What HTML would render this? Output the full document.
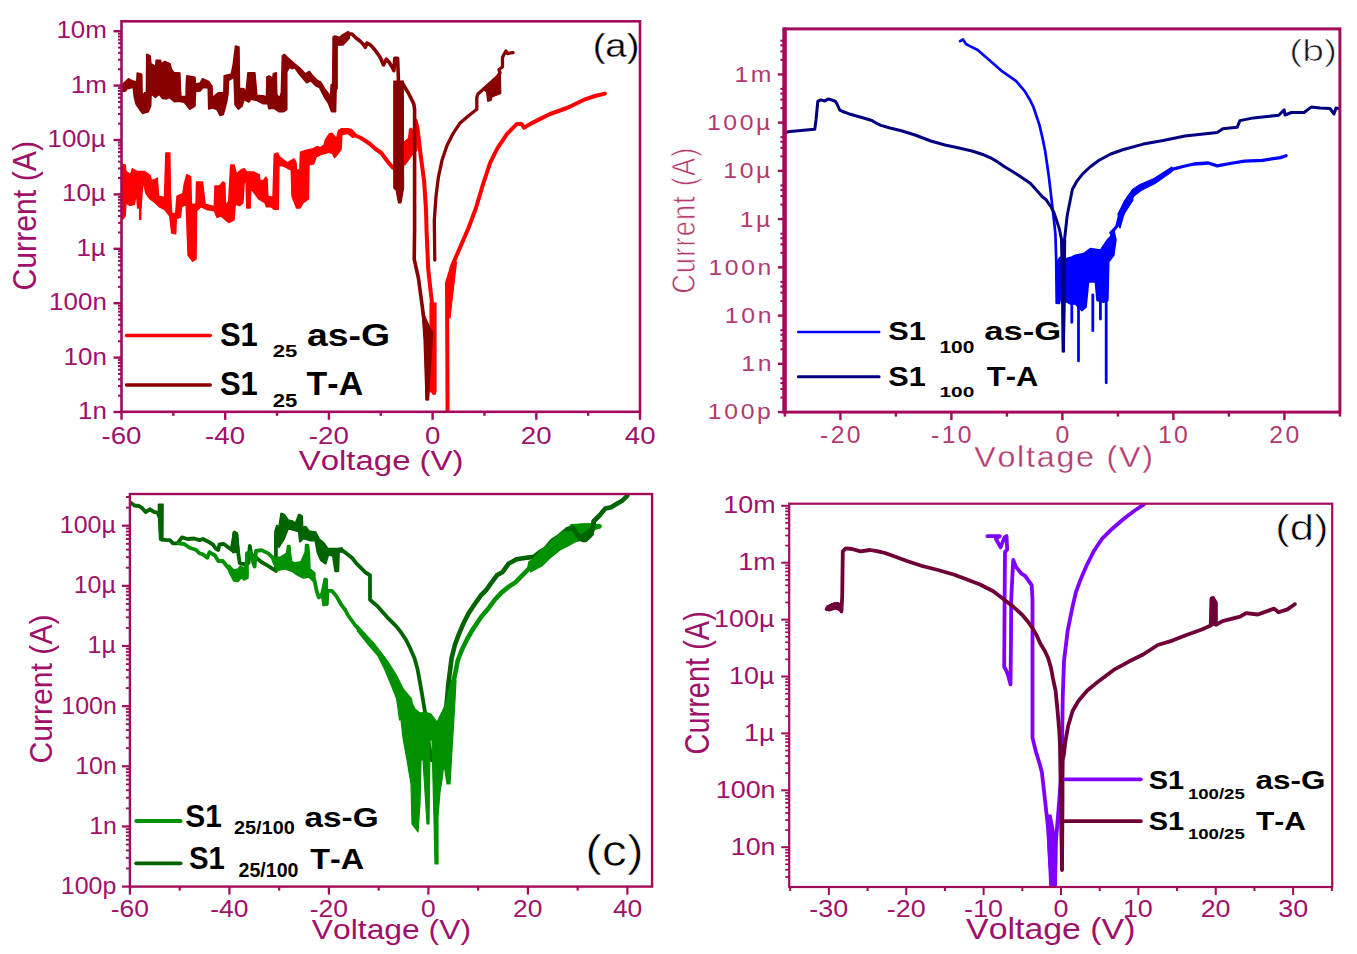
<!DOCTYPE html>
<html><head><meta charset="utf-8"><title>I-V curves</title>
<style>
html,body{margin:0;padding:0;background:#fff;}
body{width:1357px;height:954px;overflow:hidden;}
svg{display:block;font-family:"Liberation Sans", sans-serif;font-kerning:none;}
text{font-kerning:none;}
</style></head><body>
<svg width="1357" height="954" viewBox="0 0 1357 954">
<rect width="1357" height="954" fill="#fff"/>
<clipPath id="ca"><rect x="121.5" y="21.3" width="518.5" height="390.5"/></clipPath>
<g clip-path="url(#ca)">
<path d="M121 164 L122 164.2 L125.2 164.9 L125.9 171.4 L130.5 174.7 L132.4 168.8 L137 171.4 L144.2 171.4 L150.1 175.4 L151.4 180.6 L155.4 179.3 L157.3 178 L158.6 196.3 L164.5 197.6 L165.9 153.1 L169.8 153.1 L170.4 192.4 L171.7 213.4 L175.7 213.4 L177 196.3 L182.9 193.7 L184.2 184.5 L186.8 174.7 L190.7 176.7 L191.4 204.2 L196 204.2 L196.6 181.9 L202.5 181.9 L203.8 193.7 L205.2 204.2 L214.3 206.8 L215 185.9 L219.6 185.9 L222.8 181.9 L224.8 183.2 L225.5 205.5 L228.7 201.6 L230.7 164.9 L234 164.9 L236.6 174.1 L240.9 170 L244.2 168.7 L246.8 172 L253.3 172 L259.2 174.6 L259.9 180.5 L263.8 180.5 L265.8 177.2 L267.1 179.2 L267.8 196.2 L273 197.5 L274.3 154.3 L277.6 153 L279.5 156.9 L287.4 162.8 L294 158.9 L295.9 162.2 L296.6 170 L299.8 170 L300.5 152.3 L305.7 150.4 L312.3 149.1 L317.5 146.4 L320.2 147.8 L324.1 145.1 L325.4 139.9 L329.3 134 L331.9 133.3 L336.5 138.6 L338.5 130.7 L341.1 128.8 L347.7 128.8 L351.6 129.4 L355 133.3 L355 136.6 L352.9 137.3 L347.7 133.3 L341.8 134.7 L341.1 149.1 L336.5 155.6 L334.6 157.6 L332.6 153.6 L329.3 152.3 L321.5 154.3 L316.2 156.9 L313.6 164.1 L309 164.8 L308.4 198.8 L303.1 202.8 L299.8 208 L296.6 208 L292 196.2 L291.3 170 L282.2 165.4 L278.9 166.1 L278.2 209.3 L274.3 209.3 L271 206.7 L266.4 206.7 L265.1 202.8 L258.6 198.8 L254.7 193.6 L250.7 188.4 L250.1 208 L246.8 208 L246.1 181.8 L244.2 181.8 L242.9 202.8 L240 205.5 L235.3 204.2 L234 219.9 L228.7 222.5 L220.9 216 L217 217.3 L214.3 210.7 L206.5 209.4 L201.2 206.8 L196.6 210.7 L196 259.2 L192.7 261.2 L188.1 255.3 L186.2 204.2 L181.6 206.8 L180.3 217.3 L176.3 218.6 L175.7 233.7 L171.7 233 L169.8 216 L164.5 209.4 L159.3 206.8 L155.4 202.9 L150.1 199 L146.2 193.7 L142.9 180.6 L141 207.5 L137.7 208.1 L136.4 192.4 L134.4 204.2 L129.8 205.5 L125.9 202.9 L125.2 216 L122 219.9 L121 220Z" fill="#FF0000" stroke="#FF0000" stroke-width="1.5" stroke-linejoin="round"/>
<path d="M140.2 200 L140.2 219" fill="none" stroke="#FF0000" stroke-width="2.6" stroke-linejoin="round" stroke-linecap="round"/>
<path d="M174 215 L174 233" fill="none" stroke="#FF0000" stroke-width="2.6" stroke-linejoin="round" stroke-linecap="round"/>
<path d="M354 135 L360 137.5 L365 140.5 L370 144 L375 148.5 L381.3 153 L385 158 L388 162 L392.9 167.7 L398 166 L403.3 162.1 L405.2 143.2 L409.9 139.4 L410.8 130 L412.7 150.8 L415.6 120.6 L417.5 128.1 L420.3 152.6 L424.1 180.9 L426 210 L426.6 232 L428.2 268.8 L430.5 290 L432.1 303.7 L434 332.8 L433 391 L434 393" fill="none" stroke="#FF0000" stroke-width="4" stroke-linejoin="round" stroke-linecap="round"/>
<path d="M447.6 425 L447.2 330 L447 283 L452.9 263.9 L461.3 244.6 L468.6 227.8 L475.8 208.5 L483 184.4 L490.2 162.7 L497.5 148.2 L507.1 133.8 L516.7 124.1 L521.6 124.1 L524 127.7 L530 124.1 L539.8 119.1 L550 114 L560 110.5 L568.1 107.5 L585.1 99.3 L595 96 L604.9 93.6" fill="none" stroke="#FF0000" stroke-width="4" stroke-linejoin="round" stroke-linecap="round"/>
<path d="M403 163 L404.5 142 L409 138 L410.8 128 L412 140 L415 119 L418 127 L417 150 L412 155 L405 165Z" fill="#FF0000" stroke="#FF0000" stroke-width="1.2" stroke-linejoin="round"/>
<path d="M430 303 L436 303 L436 392 L430 392Z" fill="#FF0000" stroke="#FF0000" stroke-width="1.2" stroke-linejoin="round"/>
<path d="M446 318 L450.5 266 L456.5 262 L450 318Z" fill="#FF0000" stroke="#FF0000" stroke-width="1.2" stroke-linejoin="round"/>
<path d="M121 85 L122.4 84.3 L125 82 L128.5 78.7 L130.5 80 L132.3 80.6 L134.6 81.5 L136.8 81.5 L137.2 73 L141.2 74 L141.8 75 L142.2 96.6 L144.5 92.8 L146.4 92.8 L146.7 54.2 L150.2 56 L150.9 63.6 L155.6 66.4 L156.1 60.3 L160.6 60.3 L161.3 63.6 L164.8 61.5 L170 63.6 L171.4 69.2 L173.8 72.5 L179.9 73 L180.4 89.1 L181 96.6 L186 96.6 L186.3 83 L186.8 75.8 L195 77.3 L195.4 84 L200.2 82.9 L202.5 78.7 L208.7 81.5 L212 86.2 L212.5 97.5 L218.1 92.8 L223.8 92.8 L224.2 75.8 L231.3 74 L233.2 64.5 L235.5 45.9 L239 46.9 L239.5 88.2 L244 88.7 L245.9 92.7 L247.9 72.8 L254.9 72.8 L255.9 84.3 L256.9 95.2 L262.9 95.7 L266.4 96.7 L266.9 76.8 L268.8 75.8 L272.8 77.8 L273.3 73.8 L276.3 72.8 L276.8 94.7 L279.8 97.7 L281.3 92.7 L282.3 55.9 L284.3 54.4 L286.8 56.9 L294.7 63.8 L300.7 68.8 L305.2 73.8 L309.2 71.3 L312.7 75.8 L316.7 79.8 L320.6 81.8 L324.6 88.7 L328.6 93.7 L330.6 97.7 L331.1 84.8 L332.6 83.8 L333.1 37 L335.1 36 L339.6 37.5 L341.6 35.5 L348.5 31.5 L349.5 37.9 L343 44.9 L337.1 44.9 L337.1 88.7 L336.1 89.7 L335.6 111.7 L331.6 111.7 L328.6 103.7 L324.6 97.7 L319.6 87.7 L315.7 85.8 L310.7 80.8 L306.7 82.8 L299.7 74.8 L294.7 67.8 L291.8 68.8 L289.8 66.8 L286.8 71.8 L286.8 109.7 L283.8 111.7 L278.8 111.7 L273.8 108.2 L268.8 108.7 L267.8 103.7 L262.9 103.7 L255.9 100.2 L250.9 99.2 L248.9 102.2 L244 99.7 L242 106.2 L238.5 109.2 L235 104.7 L234 76.3 L233.2 77.7 L228.5 80.6 L228 93.8 L226.6 102.3 L223.3 114.5 L220 115.5 L217.2 109.8 L212.5 107.9 L208.7 108.9 L208.2 88.1 L203 87.6 L200.2 90.9 L195.5 91.4 L195 106 L189.8 109.3 L184.2 102.3 L178.5 101.3 L174.7 101.8 L169.1 97.5 L166.2 99 L162.5 98.5 L159.2 94.2 L155.4 97.5 L151.1 93.8 L150.7 106 L148.3 111.7 L142.6 113.6 L139.8 109.8 L136 104.2 L134.2 96.6 L133.2 87.2 L126.6 89.1 L125.7 90.9 L122.4 91.4 L121 92Z" fill="#880000" stroke="#880000" stroke-width="1.5" stroke-linejoin="round"/>
<path d="M347 34 L352 34 L356 38 L360 41 L363 44 L365.3 47.3 L367 43 L370 44.5 L375 50 L380 57 L383.5 64.9 L386.3 59.2 L389 62 L392 67 L393.9 70.6 L394.8 58.3 L397.6 58.3 L398.5 82" fill="none" stroke="#880000" stroke-width="3.6" stroke-linejoin="round" stroke-linecap="round"/>
<path d="M393.8 81 L403.3 81 L403.6 188 L401 203 L398.5 203 L396 190 L393.8 188Z" fill="#880000" stroke="#880000" stroke-width="1.2" stroke-linejoin="round"/>
<path d="M402 82.5 L409 94.2 L413.7 103.6 L414.6 109.2 L414.6 230 L414.2 259.1 L418.5 278.5 L422.4 307.6 L426.3 336.7 L427.2 398.8 L429.5 365 L431.5 332" fill="none" stroke="#880000" stroke-width="3.6" stroke-linejoin="round" stroke-linecap="round"/>
<path d="M422 310 L431 330 L428.6 400 L426 400 L424 340Z" fill="#880000" stroke="#880000" stroke-width="1.2" stroke-linejoin="round"/>
<path d="M434.8 260 L434.3 220.5 L436 196.4 L438.4 177.1 L442 160.3 L446.9 145.8 L452.9 133.8 L460.1 122.9 L468.6 115.7 L476.8 109.2 L476.8 97.4 L478 94 L484.7 88 L497 77 L500 73 L499 69.5 L502.5 67 L502.5 57.3 L505.9 51 L507.5 53.5 L513 52.6" fill="none" stroke="#880000" stroke-width="3.3" stroke-linejoin="round" stroke-linecap="round"/>
<path d="M484 90 L497 78 L500.4 74.6 L500.8 93.5 L492 97 L491 100.5 L487.8 101.3 L486.5 92Z" fill="#880000" stroke="#880000" stroke-width="1.2" stroke-linejoin="round"/>
</g>
<rect x="121.5" y="21.3" width="518.5" height="390.5" fill="none" stroke="#A40A5C" stroke-width="2.6"/>
<line x1="113.5" y1="412" x2="121.5" y2="412" stroke="#A40A5C" stroke-width="2.4"/>
<line x1="118" y1="395.62" x2="121.5" y2="395.62" stroke="#A40A5C" stroke-width="2.04"/>
<line x1="118" y1="386.04" x2="121.5" y2="386.04" stroke="#A40A5C" stroke-width="2.04"/>
<line x1="118" y1="379.25" x2="121.5" y2="379.25" stroke="#A40A5C" stroke-width="2.04"/>
<line x1="118" y1="373.98" x2="121.5" y2="373.98" stroke="#A40A5C" stroke-width="2.04"/>
<line x1="118" y1="369.67" x2="121.5" y2="369.67" stroke="#A40A5C" stroke-width="2.04"/>
<line x1="118" y1="366.03" x2="121.5" y2="366.03" stroke="#A40A5C" stroke-width="2.04"/>
<line x1="118" y1="362.87" x2="121.5" y2="362.87" stroke="#A40A5C" stroke-width="2.04"/>
<line x1="118" y1="360.09" x2="121.5" y2="360.09" stroke="#A40A5C" stroke-width="2.04"/>
<line x1="113.5" y1="357.6" x2="121.5" y2="357.6" stroke="#A40A5C" stroke-width="2.4"/>
<line x1="118" y1="341.22" x2="121.5" y2="341.22" stroke="#A40A5C" stroke-width="2.04"/>
<line x1="118" y1="331.64" x2="121.5" y2="331.64" stroke="#A40A5C" stroke-width="2.04"/>
<line x1="118" y1="324.85" x2="121.5" y2="324.85" stroke="#A40A5C" stroke-width="2.04"/>
<line x1="118" y1="319.58" x2="121.5" y2="319.58" stroke="#A40A5C" stroke-width="2.04"/>
<line x1="118" y1="315.27" x2="121.5" y2="315.27" stroke="#A40A5C" stroke-width="2.04"/>
<line x1="118" y1="311.63" x2="121.5" y2="311.63" stroke="#A40A5C" stroke-width="2.04"/>
<line x1="118" y1="308.47" x2="121.5" y2="308.47" stroke="#A40A5C" stroke-width="2.04"/>
<line x1="118" y1="305.69" x2="121.5" y2="305.69" stroke="#A40A5C" stroke-width="2.04"/>
<line x1="113.5" y1="303.2" x2="121.5" y2="303.2" stroke="#A40A5C" stroke-width="2.4"/>
<line x1="118" y1="286.82" x2="121.5" y2="286.82" stroke="#A40A5C" stroke-width="2.04"/>
<line x1="118" y1="277.24" x2="121.5" y2="277.24" stroke="#A40A5C" stroke-width="2.04"/>
<line x1="118" y1="270.45" x2="121.5" y2="270.45" stroke="#A40A5C" stroke-width="2.04"/>
<line x1="118" y1="265.18" x2="121.5" y2="265.18" stroke="#A40A5C" stroke-width="2.04"/>
<line x1="118" y1="260.87" x2="121.5" y2="260.87" stroke="#A40A5C" stroke-width="2.04"/>
<line x1="118" y1="257.23" x2="121.5" y2="257.23" stroke="#A40A5C" stroke-width="2.04"/>
<line x1="118" y1="254.07" x2="121.5" y2="254.07" stroke="#A40A5C" stroke-width="2.04"/>
<line x1="118" y1="251.29" x2="121.5" y2="251.29" stroke="#A40A5C" stroke-width="2.04"/>
<line x1="113.5" y1="248.8" x2="121.5" y2="248.8" stroke="#A40A5C" stroke-width="2.4"/>
<line x1="118" y1="232.42" x2="121.5" y2="232.42" stroke="#A40A5C" stroke-width="2.04"/>
<line x1="118" y1="222.84" x2="121.5" y2="222.84" stroke="#A40A5C" stroke-width="2.04"/>
<line x1="118" y1="216.05" x2="121.5" y2="216.05" stroke="#A40A5C" stroke-width="2.04"/>
<line x1="118" y1="210.78" x2="121.5" y2="210.78" stroke="#A40A5C" stroke-width="2.04"/>
<line x1="118" y1="206.47" x2="121.5" y2="206.47" stroke="#A40A5C" stroke-width="2.04"/>
<line x1="118" y1="202.83" x2="121.5" y2="202.83" stroke="#A40A5C" stroke-width="2.04"/>
<line x1="118" y1="199.67" x2="121.5" y2="199.67" stroke="#A40A5C" stroke-width="2.04"/>
<line x1="118" y1="196.89" x2="121.5" y2="196.89" stroke="#A40A5C" stroke-width="2.04"/>
<line x1="113.5" y1="194.4" x2="121.5" y2="194.4" stroke="#A40A5C" stroke-width="2.4"/>
<line x1="118" y1="178.02" x2="121.5" y2="178.02" stroke="#A40A5C" stroke-width="2.04"/>
<line x1="118" y1="168.44" x2="121.5" y2="168.44" stroke="#A40A5C" stroke-width="2.04"/>
<line x1="118" y1="161.65" x2="121.5" y2="161.65" stroke="#A40A5C" stroke-width="2.04"/>
<line x1="118" y1="156.38" x2="121.5" y2="156.38" stroke="#A40A5C" stroke-width="2.04"/>
<line x1="118" y1="152.07" x2="121.5" y2="152.07" stroke="#A40A5C" stroke-width="2.04"/>
<line x1="118" y1="148.43" x2="121.5" y2="148.43" stroke="#A40A5C" stroke-width="2.04"/>
<line x1="118" y1="145.27" x2="121.5" y2="145.27" stroke="#A40A5C" stroke-width="2.04"/>
<line x1="118" y1="142.49" x2="121.5" y2="142.49" stroke="#A40A5C" stroke-width="2.04"/>
<line x1="113.5" y1="140" x2="121.5" y2="140" stroke="#A40A5C" stroke-width="2.4"/>
<line x1="118" y1="123.62" x2="121.5" y2="123.62" stroke="#A40A5C" stroke-width="2.04"/>
<line x1="118" y1="114.04" x2="121.5" y2="114.04" stroke="#A40A5C" stroke-width="2.04"/>
<line x1="118" y1="107.25" x2="121.5" y2="107.25" stroke="#A40A5C" stroke-width="2.04"/>
<line x1="118" y1="101.98" x2="121.5" y2="101.98" stroke="#A40A5C" stroke-width="2.04"/>
<line x1="118" y1="97.67" x2="121.5" y2="97.67" stroke="#A40A5C" stroke-width="2.04"/>
<line x1="118" y1="94.03" x2="121.5" y2="94.03" stroke="#A40A5C" stroke-width="2.04"/>
<line x1="118" y1="90.87" x2="121.5" y2="90.87" stroke="#A40A5C" stroke-width="2.04"/>
<line x1="118" y1="88.09" x2="121.5" y2="88.09" stroke="#A40A5C" stroke-width="2.04"/>
<line x1="113.5" y1="85.6" x2="121.5" y2="85.6" stroke="#A40A5C" stroke-width="2.4"/>
<line x1="118" y1="69.22" x2="121.5" y2="69.22" stroke="#A40A5C" stroke-width="2.04"/>
<line x1="118" y1="59.64" x2="121.5" y2="59.64" stroke="#A40A5C" stroke-width="2.04"/>
<line x1="118" y1="52.85" x2="121.5" y2="52.85" stroke="#A40A5C" stroke-width="2.04"/>
<line x1="118" y1="47.58" x2="121.5" y2="47.58" stroke="#A40A5C" stroke-width="2.04"/>
<line x1="118" y1="43.27" x2="121.5" y2="43.27" stroke="#A40A5C" stroke-width="2.04"/>
<line x1="118" y1="39.63" x2="121.5" y2="39.63" stroke="#A40A5C" stroke-width="2.04"/>
<line x1="118" y1="36.47" x2="121.5" y2="36.47" stroke="#A40A5C" stroke-width="2.04"/>
<line x1="118" y1="33.69" x2="121.5" y2="33.69" stroke="#A40A5C" stroke-width="2.04"/>
<line x1="113.5" y1="31.2" x2="121.5" y2="31.2" stroke="#A40A5C" stroke-width="2.4"/>
<line x1="121.5" y1="411.8" x2="121.5" y2="419.8" stroke="#A40A5C" stroke-width="2.4"/>
<line x1="225.2" y1="411.8" x2="225.2" y2="419.8" stroke="#A40A5C" stroke-width="2.4"/>
<line x1="328.9" y1="411.8" x2="328.9" y2="419.8" stroke="#A40A5C" stroke-width="2.4"/>
<line x1="432.6" y1="411.8" x2="432.6" y2="419.8" stroke="#A40A5C" stroke-width="2.4"/>
<line x1="536.3" y1="411.8" x2="536.3" y2="419.8" stroke="#A40A5C" stroke-width="2.4"/>
<line x1="640" y1="411.8" x2="640" y2="419.8" stroke="#A40A5C" stroke-width="2.4"/>
<line x1="173.35" y1="411.8" x2="173.35" y2="415.8" stroke="#A40A5C" stroke-width="2.4"/>
<line x1="277.05" y1="411.8" x2="277.05" y2="415.8" stroke="#A40A5C" stroke-width="2.4"/>
<line x1="380.75" y1="411.8" x2="380.75" y2="415.8" stroke="#A40A5C" stroke-width="2.4"/>
<line x1="484.45" y1="411.8" x2="484.45" y2="415.8" stroke="#A40A5C" stroke-width="2.4"/>
<line x1="588.15" y1="411.8" x2="588.15" y2="415.8" stroke="#A40A5C" stroke-width="2.4"/>
<text transform="translate(56.39,38.2) scale(1.0600,1)" font-size="24.5" font-weight="normal" fill="#A0106A" text-anchor="start">10m</text>
<text transform="translate(70.84,92.6) scale(1.0600,1)" font-size="24.5" font-weight="normal" fill="#A0106A" text-anchor="start">1m</text>
<text transform="translate(47.5,147) scale(1.0600,1)" font-size="24.5" font-weight="normal" fill="#A0106A" text-anchor="start">100µ</text>
<text transform="translate(61.95,201.4) scale(1.0600,1)" font-size="24.5" font-weight="normal" fill="#A0106A" text-anchor="start">10µ</text>
<text transform="translate(76.39,255.8) scale(1.0600,1)" font-size="24.5" font-weight="normal" fill="#A0106A" text-anchor="start">1µ</text>
<text transform="translate(49.11,310.2) scale(1.0600,1)" font-size="24.5" font-weight="normal" fill="#A0106A" text-anchor="start">100n</text>
<text transform="translate(63.56,364.6) scale(1.0600,1)" font-size="24.5" font-weight="normal" fill="#A0106A" text-anchor="start">10n</text>
<text transform="translate(78,419) scale(1.0600,1)" font-size="24.5" font-weight="normal" fill="#A0106A" text-anchor="start">1n</text>
<text transform="translate(101.42,443.5) scale(1.1300,1)" font-size="24.5" font-weight="normal" fill="#A0106A" text-anchor="start">-60</text>
<text transform="translate(205.12,443.5) scale(1.1300,1)" font-size="24.5" font-weight="normal" fill="#A0106A" text-anchor="start">-40</text>
<text transform="translate(308.82,443.5) scale(1.1300,1)" font-size="24.5" font-weight="normal" fill="#A0106A" text-anchor="start">-20</text>
<text transform="translate(424.9,443.5) scale(1.1300,1)" font-size="24.5" font-weight="normal" fill="#A0106A" text-anchor="start">0</text>
<text transform="translate(520.75,443.5) scale(1.1300,1)" font-size="24.5" font-weight="normal" fill="#A0106A" text-anchor="start">20</text>
<text transform="translate(624.83,443.5) scale(1.1300,1)" font-size="24.5" font-weight="normal" fill="#A0106A" text-anchor="start">40</text>
<text transform="translate(298.66,469.5) scale(1.1637,1)" font-size="28.34" font-weight="normal" fill="#A0106A" text-anchor="start">Voltage (V)</text>
<text transform="translate(36.2,290.54) scale(1.1081,1) rotate(-90)" font-size="30.25" font-weight="normal" fill="#A0106A" text-anchor="start">Current (A)</text>
<text transform="translate(592.63,56.8) scale(1.1644,1)" font-size="32.85" font-weight="normal" fill="#000" text-anchor="start" stroke="#fff" stroke-width="0.3">(a)</text>
<path d="M126.6 335.5 L210.2 335.5" fill="none" stroke="#FF0000" stroke-width="3.6" stroke-linejoin="round" stroke-linecap="round"/>
<path d="M126.6 385 L210.2 385" fill="none" stroke="#880000" stroke-width="3.6" stroke-linejoin="round" stroke-linecap="round"/>
<text transform="translate(219.91,345.8) scale(0.9531,1)" font-size="32.56" font-weight="bold" fill="#000" text-anchor="start">S1</text>
<text transform="translate(272.63,356.7) scale(1.2753,1)" font-size="17.33" font-weight="bold" fill="#000" text-anchor="start">25</text>
<text transform="translate(306.9,345.8) scale(1.1654,1)" font-size="32.08" font-weight="bold" fill="#000" text-anchor="start">as-G</text>
<text transform="translate(219.91,395.3) scale(0.9531,1)" font-size="32.56" font-weight="bold" fill="#000" text-anchor="start">S1</text>
<text transform="translate(272.63,406.7) scale(1.2247,1)" font-size="18.05" font-weight="bold" fill="#000" text-anchor="start">25</text>
<text transform="translate(306.62,395.3) scale(1.0430,1)" font-size="32.56" font-weight="bold" fill="#000" text-anchor="start">T-A</text>
<clipPath id="cb"><rect x="784.9" y="28.9" width="555" height="383.2"/></clipPath>
<g clip-path="url(#cb)">
<path d="M960.1 41.2 L963 39.5 L966 44 L968.9 45.6 L977.7 50 L989.5 60.3 L1001.2 70.6 L1015.9 80.8 L1024.7 91.1 L1030 100 L1033.5 107.2 L1039.4 124.9 L1042.5 138 L1045.2 151.3 L1048.8 176.2 L1052.8 210.3 L1054.5 225 L1055.4 233.9 L1056.2 260 L1056.7 303 L1058 262 L1060 258 L1064.6 257.5" fill="none" stroke="#0000FF" stroke-width="2.7" stroke-linejoin="round" stroke-linecap="round"/>
<path d="M1058 262 L1066.8 258.5 L1071.8 256.9 L1075.2 255.2 L1083.6 253.5 L1090.3 248.5 L1100.4 250.1 L1103.7 245.1 L1107.1 240.1 L1110.4 236.7 L1113.8 230 L1116 240 L1113.8 255.2 L1108.8 261.9 L1107.9 300.5 L1103.7 302.2 L1097 300.5 L1095.3 282 L1088.6 282 L1086.1 307.2 L1081.9 310.6 L1075.2 303.9 L1070.1 303.9 L1066.8 302.2 L1058 300Z" fill="#0000FF" stroke="#0000FF" stroke-width="1.5" stroke-linejoin="round"/>
<path d="M1071.8 300 L1071.8 322.3" fill="none" stroke="#0000FF" stroke-width="2.8" stroke-linejoin="round" stroke-linecap="round"/>
<path d="M1078.5 300 L1078.5 360.9" fill="none" stroke="#0000FF" stroke-width="2.8" stroke-linejoin="round" stroke-linecap="round"/>
<path d="M1092.8 295 L1092.8 330.7" fill="none" stroke="#0000FF" stroke-width="2.8" stroke-linejoin="round" stroke-linecap="round"/>
<path d="M1100.4 295 L1100.4 319" fill="none" stroke="#0000FF" stroke-width="2.8" stroke-linejoin="round" stroke-linecap="round"/>
<path d="M1106.2 295 L1106.2 382.8" fill="none" stroke="#0000FF" stroke-width="2.8" stroke-linejoin="round" stroke-linecap="round"/>
<path d="M1059 280 L1059 303" fill="none" stroke="#0000FF" stroke-width="2.8" stroke-linejoin="round" stroke-linecap="round"/>
<path d="M1111 233 L1113.8 230 L1117 226 L1119.6 215.5 L1124.9 205.1 L1128 198 L1132.7 191.9 L1136 189.5 L1139.7 187.4 L1146 184.5 L1154.2 181.1 L1163 175 L1172.2 169.4 L1183 166.5 L1193.9 164 L1208.3 163 L1217.3 165.8 L1230 163.5 L1244.4 161.2 L1262.5 160.3 L1280.5 157.6 L1286 155.8" fill="none" stroke="#0000FF" stroke-width="3.3" stroke-linejoin="round" stroke-linecap="round"/>
<path d="M1118 214 L1125 200 L1132.5 189.5 L1140 184.5 L1154 178.5 L1172 167 L1172 171.5 L1155 183.5 L1141 190.5 L1134 196 L1126 210 L1120 222Z" fill="#0000FF" stroke="#0000FF" stroke-width="1.2" stroke-linejoin="round"/>
<path d="M1118 224 L1122 210 L1131 195 L1133 200 L1124 214 L1120 228Z" fill="#0000FF" stroke="#0000FF" stroke-width="1.2" stroke-linejoin="round"/>
<path d="M784.9 132.5 L790 131.5 L798.7 130.7 L806 130 L814.8 129.3 L816 120 L817.8 101.4 L820.7 99.9 L825 101 L828 99 L832 100 L835.4 101.4 L837 104 L839.8 110.2 L844 112 L848.6 113.7 L860 117 L872 120.5 L876 123 L880.9 125.4 L890 128 L901.4 130.7 L915 135 L930.8 141 L945 145 L960.1 148.3 L972 151 L983.6 154.8 L991 158 L998.3 162.4 L1005 167 L1012.9 171.8 L1020 176.2 L1030.5 183.6 L1035.7 189.3 L1042.3 196.8 L1046.2 199.8 L1051.1 207 L1054.1 212.9 L1057 221.7 L1059.3 228.7 L1061.5 239.1 L1062.6 300 L1063.3 351 L1064 300 L1064.6 239.1 L1067.2 215.5 L1072.4 189.3 L1077 181 L1082.9 173.6 L1090 167 L1098.7 160.5 L1110.8 154 L1123.5 149.5 L1143.3 144.1 L1163.2 140.5 L1184.9 136 L1201.1 134.2 L1217.3 132.4 L1222.8 128.7 L1237.2 127.3 L1239.9 120.6 L1253.5 117.9 L1278.7 115.2 L1284.2 109.8 L1285 115 L1291.4 112.5 L1304 112.5 L1311.2 107.1 L1320 108 L1330 108.5 L1334 114 L1336 108 L1341 108.9" fill="none" stroke="#000080" stroke-width="3.0" stroke-linejoin="round" stroke-linecap="round"/>
<path d="M1061.6 240 L1065.6 240 L1065 300 L1064.3 352 L1062.4 352 L1062 300Z" fill="#000080" stroke="#000080" stroke-width="1.2" stroke-linejoin="round"/>
</g>
<rect x="784.9" y="28.9" width="555" height="383.2" fill="none" stroke="#A40A5C" stroke-width="3.0"/>
<line x1="777.9" y1="412.08" x2="784.9" y2="412.08" stroke="#A40A5C" stroke-width="2.4"/>
<line x1="780.4" y1="397.56" x2="784.9" y2="397.56" stroke="#A40A5C" stroke-width="2.04"/>
<line x1="780.4" y1="389.06" x2="784.9" y2="389.06" stroke="#A40A5C" stroke-width="2.04"/>
<line x1="780.4" y1="383.04" x2="784.9" y2="383.04" stroke="#A40A5C" stroke-width="2.04"/>
<line x1="780.4" y1="378.36" x2="784.9" y2="378.36" stroke="#A40A5C" stroke-width="2.04"/>
<line x1="777.9" y1="363.84" x2="784.9" y2="363.84" stroke="#A40A5C" stroke-width="2.4"/>
<line x1="780.4" y1="349.32" x2="784.9" y2="349.32" stroke="#A40A5C" stroke-width="2.04"/>
<line x1="780.4" y1="340.82" x2="784.9" y2="340.82" stroke="#A40A5C" stroke-width="2.04"/>
<line x1="780.4" y1="334.8" x2="784.9" y2="334.8" stroke="#A40A5C" stroke-width="2.04"/>
<line x1="780.4" y1="330.12" x2="784.9" y2="330.12" stroke="#A40A5C" stroke-width="2.04"/>
<line x1="777.9" y1="315.6" x2="784.9" y2="315.6" stroke="#A40A5C" stroke-width="2.4"/>
<line x1="780.4" y1="301.08" x2="784.9" y2="301.08" stroke="#A40A5C" stroke-width="2.04"/>
<line x1="780.4" y1="292.58" x2="784.9" y2="292.58" stroke="#A40A5C" stroke-width="2.04"/>
<line x1="780.4" y1="286.56" x2="784.9" y2="286.56" stroke="#A40A5C" stroke-width="2.04"/>
<line x1="780.4" y1="281.88" x2="784.9" y2="281.88" stroke="#A40A5C" stroke-width="2.04"/>
<line x1="777.9" y1="267.36" x2="784.9" y2="267.36" stroke="#A40A5C" stroke-width="2.4"/>
<line x1="780.4" y1="252.84" x2="784.9" y2="252.84" stroke="#A40A5C" stroke-width="2.04"/>
<line x1="780.4" y1="244.34" x2="784.9" y2="244.34" stroke="#A40A5C" stroke-width="2.04"/>
<line x1="780.4" y1="238.32" x2="784.9" y2="238.32" stroke="#A40A5C" stroke-width="2.04"/>
<line x1="780.4" y1="233.64" x2="784.9" y2="233.64" stroke="#A40A5C" stroke-width="2.04"/>
<line x1="777.9" y1="219.12" x2="784.9" y2="219.12" stroke="#A40A5C" stroke-width="2.4"/>
<line x1="780.4" y1="204.6" x2="784.9" y2="204.6" stroke="#A40A5C" stroke-width="2.04"/>
<line x1="780.4" y1="196.1" x2="784.9" y2="196.1" stroke="#A40A5C" stroke-width="2.04"/>
<line x1="780.4" y1="190.08" x2="784.9" y2="190.08" stroke="#A40A5C" stroke-width="2.04"/>
<line x1="780.4" y1="185.4" x2="784.9" y2="185.4" stroke="#A40A5C" stroke-width="2.04"/>
<line x1="777.9" y1="170.88" x2="784.9" y2="170.88" stroke="#A40A5C" stroke-width="2.4"/>
<line x1="780.4" y1="156.36" x2="784.9" y2="156.36" stroke="#A40A5C" stroke-width="2.04"/>
<line x1="780.4" y1="147.86" x2="784.9" y2="147.86" stroke="#A40A5C" stroke-width="2.04"/>
<line x1="780.4" y1="141.84" x2="784.9" y2="141.84" stroke="#A40A5C" stroke-width="2.04"/>
<line x1="780.4" y1="137.16" x2="784.9" y2="137.16" stroke="#A40A5C" stroke-width="2.04"/>
<line x1="777.9" y1="122.64" x2="784.9" y2="122.64" stroke="#A40A5C" stroke-width="2.4"/>
<line x1="780.4" y1="108.12" x2="784.9" y2="108.12" stroke="#A40A5C" stroke-width="2.04"/>
<line x1="780.4" y1="99.62" x2="784.9" y2="99.62" stroke="#A40A5C" stroke-width="2.04"/>
<line x1="780.4" y1="93.6" x2="784.9" y2="93.6" stroke="#A40A5C" stroke-width="2.04"/>
<line x1="780.4" y1="88.92" x2="784.9" y2="88.92" stroke="#A40A5C" stroke-width="2.04"/>
<line x1="777.9" y1="74.4" x2="784.9" y2="74.4" stroke="#A40A5C" stroke-width="2.4"/>
<line x1="780.4" y1="59.88" x2="784.9" y2="59.88" stroke="#A40A5C" stroke-width="2.04"/>
<line x1="780.4" y1="51.38" x2="784.9" y2="51.38" stroke="#A40A5C" stroke-width="2.04"/>
<line x1="780.4" y1="45.36" x2="784.9" y2="45.36" stroke="#A40A5C" stroke-width="2.04"/>
<line x1="780.4" y1="40.68" x2="784.9" y2="40.68" stroke="#A40A5C" stroke-width="2.04"/>
<line x1="784.5" y1="27.4" x2="784.5" y2="413.6" stroke="#A40A5C" stroke-width="4.4"/>
<line x1="840.4" y1="412.1" x2="840.4" y2="420.1" stroke="#A40A5C" stroke-width="2.4"/>
<line x1="951.4" y1="412.1" x2="951.4" y2="420.1" stroke="#A40A5C" stroke-width="2.4"/>
<line x1="1062.4" y1="412.1" x2="1062.4" y2="420.1" stroke="#A40A5C" stroke-width="2.4"/>
<line x1="1173.4" y1="412.1" x2="1173.4" y2="420.1" stroke="#A40A5C" stroke-width="2.4"/>
<line x1="1284.4" y1="412.1" x2="1284.4" y2="420.1" stroke="#A40A5C" stroke-width="2.4"/>
<line x1="784.9" y1="412.1" x2="784.9" y2="416.6" stroke="#A40A5C" stroke-width="2.4"/>
<line x1="895.9" y1="412.1" x2="895.9" y2="416.6" stroke="#A40A5C" stroke-width="2.4"/>
<line x1="1006.9" y1="412.1" x2="1006.9" y2="416.6" stroke="#A40A5C" stroke-width="2.4"/>
<line x1="1117.9" y1="412.1" x2="1117.9" y2="416.6" stroke="#A40A5C" stroke-width="2.4"/>
<line x1="1228.9" y1="412.1" x2="1228.9" y2="416.6" stroke="#A40A5C" stroke-width="2.4"/>
<line x1="1339.9" y1="412.1" x2="1339.9" y2="416.6" stroke="#A40A5C" stroke-width="2.4"/>
<text transform="translate(734.41,81.8) scale(1.1000,1)" font-size="22.5" font-weight="normal" fill="#B23A70" text-anchor="start" letter-spacing="2.4">1m</text>
<text transform="translate(706.89,130.04) scale(1.1000,1)" font-size="22.5" font-weight="normal" fill="#B23A70" text-anchor="start" letter-spacing="2.4">100µ</text>
<text transform="translate(723.3,178.28) scale(1.1000,1)" font-size="22.5" font-weight="normal" fill="#B23A70" text-anchor="start" letter-spacing="2.4">10µ</text>
<text transform="translate(739.7,226.52) scale(1.1000,1)" font-size="22.5" font-weight="normal" fill="#B23A70" text-anchor="start" letter-spacing="2.4">1µ</text>
<text transform="translate(708.43,274.76) scale(1.1000,1)" font-size="22.5" font-weight="normal" fill="#B23A70" text-anchor="start" letter-spacing="2.4">100n</text>
<text transform="translate(724.83,323) scale(1.1000,1)" font-size="22.5" font-weight="normal" fill="#B23A70" text-anchor="start" letter-spacing="2.4">10n</text>
<text transform="translate(741.24,371.24) scale(1.1000,1)" font-size="22.5" font-weight="normal" fill="#B23A70" text-anchor="start" letter-spacing="2.4">1n</text>
<text transform="translate(707.86,419.48) scale(1.1000,1)" font-size="22.5" font-weight="normal" fill="#B23A70" text-anchor="start" letter-spacing="2.4">100p</text>
<text transform="translate(820.12,442.9) scale(1.0500,1)" font-size="23.6" font-weight="normal" fill="#B23A70" text-anchor="start" letter-spacing="2.2">-20</text>
<text transform="translate(931.12,442.9) scale(1.0500,1)" font-size="23.6" font-weight="normal" fill="#B23A70" text-anchor="start" letter-spacing="2.2">-10</text>
<text transform="translate(1055.51,442.9) scale(1.0500,1)" font-size="23.6" font-weight="normal" fill="#B23A70" text-anchor="start" letter-spacing="2.2">0</text>
<text transform="translate(1158,442.9) scale(1.0500,1)" font-size="23.6" font-weight="normal" fill="#B23A70" text-anchor="start" letter-spacing="2.2">10</text>
<text transform="translate(1269.32,442.9) scale(1.0500,1)" font-size="23.6" font-weight="normal" fill="#B23A70" text-anchor="start" letter-spacing="2.2">20</text>
<text transform="translate(974.16,466.6) scale(1.0931,1)" font-size="29.51" font-weight="normal" fill="#B23A70" text-anchor="start" letter-spacing="1.6" stroke="#fff" stroke-width="0.3">Voltage (V)</text>
<text transform="translate(694.6,293.77) scale(1.2204,1) rotate(-90)" font-size="27" font-weight="normal" fill="#B23A70" text-anchor="start" letter-spacing="1.25" stroke="#fff" stroke-width="0.6">Current (A)</text>
<text transform="translate(1289.17,61.39) scale(1.3266,1)" font-size="29.52" font-weight="normal" fill="#1a1a1a" text-anchor="start" stroke="#fff" stroke-width="0.7">(b)</text>
<path d="M798.3 332 L879.1 332" fill="none" stroke="#0000FF" stroke-width="2.7" stroke-linejoin="round" stroke-linecap="round"/>
<path d="M798.3 376.8 L879.1 376.8" fill="none" stroke="#000080" stroke-width="3.0" stroke-linejoin="round" stroke-linecap="round"/>
<text transform="translate(888.32,340.2) scale(1.1601,1)" font-size="26.45" font-weight="bold" fill="#000" text-anchor="start">S1</text>
<text transform="translate(939.48,352.6) scale(1.3148,1)" font-size="15.9" font-weight="bold" fill="#000" text-anchor="start">100</text>
<text transform="translate(984.18,340.2) scale(1.3299,1)" font-size="26.07" font-weight="bold" fill="#000" text-anchor="start">as-G</text>
<text transform="translate(888.32,386.3) scale(1.1113,1)" font-size="27.62" font-weight="bold" fill="#000" text-anchor="start">S1</text>
<text transform="translate(939.48,396.6) scale(1.3513,1)" font-size="15.47" font-weight="bold" fill="#000" text-anchor="start">100</text>
<text transform="translate(986.85,386.3) scale(1.1163,1)" font-size="27.62" font-weight="bold" fill="#000" text-anchor="start">T-A</text>
<clipPath id="cc"><rect x="129.9" y="494" width="522.2" height="392.6"/></clipPath>
<g clip-path="url(#cc)">
<path d="M130.8 502.7 L134.6 505.5 L139 506 L142.3 508.2 L145.6 512.1 L150 509.3 L154.4 512.1 L157.7 512.6 L159 516" fill="none" stroke="#006400" stroke-width="3.8" stroke-linejoin="round" stroke-linecap="round"/>
<path d="M158.3 504 L163.2 504 L163 540 L159.5 540 L158.3 516Z" fill="#006400" stroke="#006400" stroke-width="1.2" stroke-linejoin="round"/>
<path d="M161.6 539.5 L166.5 540.1 L169.8 540.1 L173.1 543.4 L177.5 543.4 L181.9 537.4 L187.4 539 L194 538.5 L199.5 540.1 L202.8 539 L207.3 541.2 L212.8 544.5 L216.1 548.9 L218.3 550 L219.4 544.5 L223.8 544 L228.2 547.3 L232.6 550.6 L234.2 533 L236.4 534.1 L238.1 552.2 L239.7 563.2 L244.7 564.3 L248.5 563 L249.8 546 L251.3 554.6 L255 556.7 L261.6 562.2 L269.3 566.6 L275.9 571 L275.9 535" fill="none" stroke="#006400" stroke-width="3.8" stroke-linejoin="round" stroke-linecap="round"/>
<path d="M230.5 548 L234 531 L237.5 533 L239 552 L233 553Z" fill="#006400" stroke="#006400" stroke-width="1.2" stroke-linejoin="round"/>
<path d="M275.4 531.4 L277 525.9 L278.7 531.4 L281.4 513.8 L284.2 514.9 L288 520.4 L292.4 521.5 L295.7 523.7 L299 514.9 L301.8 516 L302.3 528.1 L305.6 527 L308.9 531.4 L315.5 532.5 L318.8 539.1 L323.8 543.5 L327.6 549 L332 549 L336.5 549 L342 548.5 L342 551.5 L338.7 551.2 L338.1 571 L335.4 571 L333.1 555.6 L328.2 554.5 L325.4 563.3 L321 560 L317.7 552.3 L315.5 540.2 L310 540.2 L303.4 538 L300.1 541.3 L299 531.4 L288 528.1 L283.6 539.1 L278.7 546.8 L275.4 540Z" fill="#006400" stroke="#006400" stroke-width="2.4" stroke-linejoin="round"/>
<path d="M341 549.5 L346.4 553.4 L351.9 557.8 L356.3 563.3 L360.7 567.7 L365.1 572.1 L370 575.4 L370 599.7 L377.7 606.4 L387.3 617.3 L396.8 626.8 L401.5 633 L406.4 640.5 L410.5 649 L414.5 658.2 L417.5 669 L420 682.7 L422.5 697 L424 706 L425.5 715 L428 740 L432 760" fill="none" stroke="#006400" stroke-width="3.8" stroke-linejoin="round" stroke-linecap="round"/>
<path d="M432 760 L436 745 L442 730 L446 711.5 L448.2 685.4 L451.6 658.1 L455 644.5 L459.1 633.6 L463.8 622.7 L468.6 613.2 L474.1 605 L480.9 595.4 L486.3 590 L490 584.6 L496.9 575.3 L502.7 571.9 L508.5 563.8 L516.5 559.2 L524.6 558 L533.8 556.9 L539.6 552.3 L545.4 548.8 L552.3 540.7 L559.2 536.1 L567.3 529.2 L573 528.1 L580 538.4 L585.7 539.6 L591.5 533.8 L593.8 521.1 L599.6 515.4 L605.3 508.5 L611.1 507.3 L616.9 503.8 L622.6 500.4 L627.2 495.8" fill="none" stroke="#006400" stroke-width="4.6" stroke-linejoin="round" stroke-linecap="round"/>
<path d="M178.6 543.4 L184.1 544 L189.6 547.8 L196.2 550 L199.5 553.3 L202.8 554.4 L207.3 557.7 L209.5 552.2 L215 555.5 L218.3 561 L222.7 561 L227.1 566.5 L230 570" fill="none" stroke="#009100" stroke-width="3.8" stroke-linejoin="round" stroke-linecap="round"/>
<path d="M229 565 L233.7 570 L238.1 569 L240.3 566 L243.6 568 L246.5 565 L248 566 L248 578 L244 580 L241 578 L238.1 581.5 L233.7 581 L229 572Z" fill="#009100" stroke="#009100" stroke-width="1.5" stroke-linejoin="round"/>
<path d="M246.5 575 L246.9 553.3 L250.2 552.2 L253 562 L254.6 566.5 L256 551 L261.6 550.1 L268.2 553.4 L272.6 557.5" fill="none" stroke="#009100" stroke-width="3.8" stroke-linejoin="round" stroke-linecap="round"/>
<path d="M272.6 557.8 L280.3 557.8 L286.9 553.4 L288 546 L289.5 546 L290.2 554.5 L291.3 562.2 L295.7 563.3 L301.2 562.2 L305.6 552.3 L306 545 L308 545 L308.9 552.3 L309.5 568.8 L314.4 573.2 L314.4 582 L308.9 576.5 L303.4 577.6 L296.8 574.3 L292.4 571 L284.7 568.3 L277 570 L272.6 560Z" fill="#009100" stroke="#009100" stroke-width="2.4" stroke-linejoin="round"/>
<path d="M313 577 L314.4 579.8 L316.6 590.9 L318.8 597.5 L322.1 594.2 L325.4 579.8 L326.5 604.1 L327.6 590.9 L332 590.9 L336.5 596.4 L340.9 604.1 L345.3 610 L348.1 615.5 L355 625 L362.8 633.8 L370 642 L377.5 651.4 L380 653.5 L385 661 L391.7 670.4 L394 676 L397 684 L400.5 690 L403 700" fill="none" stroke="#009100" stroke-width="3.8" stroke-linejoin="round" stroke-linecap="round"/>
<path d="M321.5 596 L324.3 578 L327.3 579 L328 604.5 L323 606Z" fill="#009100" stroke="#009100" stroke-width="1.2" stroke-linejoin="round"/>
<path d="M394.5 682 L401 686 L405 695 L411 701 L415 709 L420 713 L425 712 L431 714 L437 722 L442 712 L446 703 L449 690 L452 680 L456 680 L455 700 L452 750 L450 784 L447 784 L444 764 L442 780 L440 792 L438 816 L438 864 L435 864 L434 820 L432 740 L430 740 L429 824 L427 824 L425 792 L423 760 L421 760 L420 804 L418 832 L412 824 L411 784 L407 760 L403 738 L401 720 L397 700 L395 690Z" fill="#009100" stroke="#009100" stroke-width="1.2" stroke-linejoin="round"/>
<path d="M357.3 625.5 L375 644.5 L387.3 660.9 L396.8 675.9 L403.6 689.5 L411.8 699.1 L412 712 L399.5 720 L396.8 699.1 L391.4 685.5 L384.5 669.1 L377.7 655.5 L368.2 644.5 L357.3 630.9Z" fill="#009100" stroke="#009100" stroke-width="1.2" stroke-linejoin="round"/>
<path d="M446.8 718.1 L450.9 693.5 L455 674.5 L457.7 660.8 L461.8 650 L467.2 639 L472.7 629.5 L480.9 617.2 L489 607.7 L494.6 600 L501.5 592.6 L508.5 586.9 L515.4 582.3 L522.3 575.3 L529.2 568.4 L530.4 562.7 L536.1 560.3 L541.9 552.3 L550 545.4 L554.6 540.7 L561.5 535 L568.4 531.5 L573 526.9 L582.3 525.8 L599.6 526.3" fill="none" stroke="#009100" stroke-width="4.6" stroke-linejoin="round" stroke-linecap="round"/>
<path d="M530.4 562 L540 551 L550 544 L560 535.5 L568 528.5 L571 524.5 L590 523.5 L600 525.5 L600 528 L593 530 L582 540 L575 542 L568 546 L560 550 L550 558 L541.9 566 L530.4 572Z" fill="#009100" stroke="#009100" stroke-width="1.2" stroke-linejoin="round"/>
<path d="M567.3 529.2 L573 528.1 L580 538.4 L585.7 539.6 L591.5 533.8 L593.8 521.1 L599.6 515.4" fill="none" stroke="#006400" stroke-width="4.6" stroke-linejoin="round" stroke-linecap="round"/>
<path d="M578 540 L584 542 L591 536 L591 528 L586 532 L580 535Z" fill="#006400" stroke="#006400" stroke-width="1.2" stroke-linejoin="round"/>
</g>
<rect x="129.9" y="494" width="522.2" height="392.6" fill="none" stroke="#A40A5C" stroke-width="2.4"/>
<line x1="121.9" y1="886.6" x2="129.9" y2="886.6" stroke="#A40A5C" stroke-width="2.2"/>
<line x1="125.9" y1="868.49" x2="129.9" y2="868.49" stroke="#A40A5C" stroke-width="1.87"/>
<line x1="125.9" y1="857.9" x2="129.9" y2="857.9" stroke="#A40A5C" stroke-width="1.87"/>
<line x1="125.9" y1="850.39" x2="129.9" y2="850.39" stroke="#A40A5C" stroke-width="1.87"/>
<line x1="125.9" y1="844.56" x2="129.9" y2="844.56" stroke="#A40A5C" stroke-width="1.87"/>
<line x1="125.9" y1="839.79" x2="129.9" y2="839.79" stroke="#A40A5C" stroke-width="1.87"/>
<line x1="125.9" y1="835.77" x2="129.9" y2="835.77" stroke="#A40A5C" stroke-width="1.87"/>
<line x1="125.9" y1="832.28" x2="129.9" y2="832.28" stroke="#A40A5C" stroke-width="1.87"/>
<line x1="125.9" y1="829.2" x2="129.9" y2="829.2" stroke="#A40A5C" stroke-width="1.87"/>
<line x1="121.9" y1="826.45" x2="129.9" y2="826.45" stroke="#A40A5C" stroke-width="2.2"/>
<line x1="125.9" y1="808.34" x2="129.9" y2="808.34" stroke="#A40A5C" stroke-width="1.87"/>
<line x1="125.9" y1="797.75" x2="129.9" y2="797.75" stroke="#A40A5C" stroke-width="1.87"/>
<line x1="125.9" y1="790.24" x2="129.9" y2="790.24" stroke="#A40A5C" stroke-width="1.87"/>
<line x1="125.9" y1="784.41" x2="129.9" y2="784.41" stroke="#A40A5C" stroke-width="1.87"/>
<line x1="125.9" y1="779.64" x2="129.9" y2="779.64" stroke="#A40A5C" stroke-width="1.87"/>
<line x1="125.9" y1="775.62" x2="129.9" y2="775.62" stroke="#A40A5C" stroke-width="1.87"/>
<line x1="125.9" y1="772.13" x2="129.9" y2="772.13" stroke="#A40A5C" stroke-width="1.87"/>
<line x1="125.9" y1="769.05" x2="129.9" y2="769.05" stroke="#A40A5C" stroke-width="1.87"/>
<line x1="121.9" y1="766.3" x2="129.9" y2="766.3" stroke="#A40A5C" stroke-width="2.2"/>
<line x1="125.9" y1="748.19" x2="129.9" y2="748.19" stroke="#A40A5C" stroke-width="1.87"/>
<line x1="125.9" y1="737.6" x2="129.9" y2="737.6" stroke="#A40A5C" stroke-width="1.87"/>
<line x1="125.9" y1="730.09" x2="129.9" y2="730.09" stroke="#A40A5C" stroke-width="1.87"/>
<line x1="125.9" y1="724.26" x2="129.9" y2="724.26" stroke="#A40A5C" stroke-width="1.87"/>
<line x1="125.9" y1="719.49" x2="129.9" y2="719.49" stroke="#A40A5C" stroke-width="1.87"/>
<line x1="125.9" y1="715.47" x2="129.9" y2="715.47" stroke="#A40A5C" stroke-width="1.87"/>
<line x1="125.9" y1="711.98" x2="129.9" y2="711.98" stroke="#A40A5C" stroke-width="1.87"/>
<line x1="125.9" y1="708.9" x2="129.9" y2="708.9" stroke="#A40A5C" stroke-width="1.87"/>
<line x1="121.9" y1="706.15" x2="129.9" y2="706.15" stroke="#A40A5C" stroke-width="2.2"/>
<line x1="125.9" y1="688.04" x2="129.9" y2="688.04" stroke="#A40A5C" stroke-width="1.87"/>
<line x1="125.9" y1="677.45" x2="129.9" y2="677.45" stroke="#A40A5C" stroke-width="1.87"/>
<line x1="125.9" y1="669.94" x2="129.9" y2="669.94" stroke="#A40A5C" stroke-width="1.87"/>
<line x1="125.9" y1="664.11" x2="129.9" y2="664.11" stroke="#A40A5C" stroke-width="1.87"/>
<line x1="125.9" y1="659.34" x2="129.9" y2="659.34" stroke="#A40A5C" stroke-width="1.87"/>
<line x1="125.9" y1="655.32" x2="129.9" y2="655.32" stroke="#A40A5C" stroke-width="1.87"/>
<line x1="125.9" y1="651.83" x2="129.9" y2="651.83" stroke="#A40A5C" stroke-width="1.87"/>
<line x1="125.9" y1="648.75" x2="129.9" y2="648.75" stroke="#A40A5C" stroke-width="1.87"/>
<line x1="121.9" y1="646" x2="129.9" y2="646" stroke="#A40A5C" stroke-width="2.2"/>
<line x1="125.9" y1="627.89" x2="129.9" y2="627.89" stroke="#A40A5C" stroke-width="1.87"/>
<line x1="125.9" y1="617.3" x2="129.9" y2="617.3" stroke="#A40A5C" stroke-width="1.87"/>
<line x1="125.9" y1="609.79" x2="129.9" y2="609.79" stroke="#A40A5C" stroke-width="1.87"/>
<line x1="125.9" y1="603.96" x2="129.9" y2="603.96" stroke="#A40A5C" stroke-width="1.87"/>
<line x1="125.9" y1="599.19" x2="129.9" y2="599.19" stroke="#A40A5C" stroke-width="1.87"/>
<line x1="125.9" y1="595.17" x2="129.9" y2="595.17" stroke="#A40A5C" stroke-width="1.87"/>
<line x1="125.9" y1="591.68" x2="129.9" y2="591.68" stroke="#A40A5C" stroke-width="1.87"/>
<line x1="125.9" y1="588.6" x2="129.9" y2="588.6" stroke="#A40A5C" stroke-width="1.87"/>
<line x1="121.9" y1="585.85" x2="129.9" y2="585.85" stroke="#A40A5C" stroke-width="2.2"/>
<line x1="125.9" y1="567.74" x2="129.9" y2="567.74" stroke="#A40A5C" stroke-width="1.87"/>
<line x1="125.9" y1="557.15" x2="129.9" y2="557.15" stroke="#A40A5C" stroke-width="1.87"/>
<line x1="125.9" y1="549.64" x2="129.9" y2="549.64" stroke="#A40A5C" stroke-width="1.87"/>
<line x1="125.9" y1="543.81" x2="129.9" y2="543.81" stroke="#A40A5C" stroke-width="1.87"/>
<line x1="125.9" y1="539.04" x2="129.9" y2="539.04" stroke="#A40A5C" stroke-width="1.87"/>
<line x1="125.9" y1="535.02" x2="129.9" y2="535.02" stroke="#A40A5C" stroke-width="1.87"/>
<line x1="125.9" y1="531.53" x2="129.9" y2="531.53" stroke="#A40A5C" stroke-width="1.87"/>
<line x1="125.9" y1="528.45" x2="129.9" y2="528.45" stroke="#A40A5C" stroke-width="1.87"/>
<line x1="121.9" y1="525.7" x2="129.9" y2="525.7" stroke="#A40A5C" stroke-width="2.2"/>
<line x1="125.9" y1="507.59" x2="129.9" y2="507.59" stroke="#A40A5C" stroke-width="1.87"/>
<line x1="125.9" y1="497" x2="129.9" y2="497" stroke="#A40A5C" stroke-width="1.87"/>
<line x1="129.9" y1="886.6" x2="129.9" y2="894.6" stroke="#A40A5C" stroke-width="2.2"/>
<line x1="229.4" y1="886.6" x2="229.4" y2="894.6" stroke="#A40A5C" stroke-width="2.2"/>
<line x1="328.9" y1="886.6" x2="328.9" y2="894.6" stroke="#A40A5C" stroke-width="2.2"/>
<line x1="428.4" y1="886.6" x2="428.4" y2="894.6" stroke="#A40A5C" stroke-width="2.2"/>
<line x1="527.9" y1="886.6" x2="527.9" y2="894.6" stroke="#A40A5C" stroke-width="2.2"/>
<line x1="627.4" y1="886.6" x2="627.4" y2="894.6" stroke="#A40A5C" stroke-width="2.2"/>
<line x1="179.65" y1="886.6" x2="179.65" y2="890.6" stroke="#A40A5C" stroke-width="2.2"/>
<line x1="279.15" y1="886.6" x2="279.15" y2="890.6" stroke="#A40A5C" stroke-width="2.2"/>
<line x1="378.65" y1="886.6" x2="378.65" y2="890.6" stroke="#A40A5C" stroke-width="2.2"/>
<line x1="478.15" y1="886.6" x2="478.15" y2="890.6" stroke="#A40A5C" stroke-width="2.2"/>
<line x1="577.65" y1="886.6" x2="577.65" y2="890.6" stroke="#A40A5C" stroke-width="2.2"/>
<text transform="translate(59.78,533.1) scale(1.0200,1)" font-size="24.5" font-weight="normal" fill="#A0106A" text-anchor="start">100µ</text>
<text transform="translate(73.68,593.25) scale(1.0200,1)" font-size="24.5" font-weight="normal" fill="#A0106A" text-anchor="start">10µ</text>
<text transform="translate(87.58,653.4) scale(1.0200,1)" font-size="24.5" font-weight="normal" fill="#A0106A" text-anchor="start">1µ</text>
<text transform="translate(61.33,713.55) scale(1.0200,1)" font-size="24.5" font-weight="normal" fill="#A0106A" text-anchor="start">100n</text>
<text transform="translate(75.23,773.7) scale(1.0200,1)" font-size="24.5" font-weight="normal" fill="#A0106A" text-anchor="start">10n</text>
<text transform="translate(89.13,833.85) scale(1.0200,1)" font-size="24.5" font-weight="normal" fill="#A0106A" text-anchor="start">1n</text>
<text transform="translate(60.76,894) scale(1.0200,1)" font-size="24.5" font-weight="normal" fill="#A0106A" text-anchor="start">100p</text>
<text transform="translate(110.75,917.3) scale(1.1000,1)" font-size="24" font-weight="normal" fill="#A0106A" text-anchor="start">-60</text>
<text transform="translate(210.25,917.3) scale(1.1000,1)" font-size="24" font-weight="normal" fill="#A0106A" text-anchor="start">-40</text>
<text transform="translate(309.75,917.3) scale(1.1000,1)" font-size="24" font-weight="normal" fill="#A0106A" text-anchor="start">-20</text>
<text transform="translate(421.06,917.3) scale(1.1000,1)" font-size="24" font-weight="normal" fill="#A0106A" text-anchor="start">0</text>
<text transform="translate(513.07,917.3) scale(1.1000,1)" font-size="24" font-weight="normal" fill="#A0106A" text-anchor="start">20</text>
<text transform="translate(612.93,917.3) scale(1.1000,1)" font-size="24" font-weight="normal" fill="#A0106A" text-anchor="start">40</text>
<text transform="translate(311.86,939.4) scale(1.1172,1)" font-size="28.49" font-weight="normal" fill="#A0106A" text-anchor="start">Voltage (V)</text>
<text transform="translate(51.9,763.53) scale(1.0692,1) rotate(-90)" font-size="30.15" font-weight="normal" fill="#A0106A" text-anchor="start">Current (A)</text>
<text transform="translate(585.19,866.31) scale(1.1411,1)" font-size="43.9" font-weight="normal" fill="#000" text-anchor="start" stroke="#fff" stroke-width="0.65">(c)</text>
<path d="M136.2 821 L180.6 821" fill="none" stroke="#009100" stroke-width="3.8" stroke-linejoin="round" stroke-linecap="round"/>
<path d="M136.2 863.3 L180.6 863.3" fill="none" stroke="#006400" stroke-width="3.8" stroke-linejoin="round" stroke-linecap="round"/>
<text transform="translate(185.24,827.3) scale(0.9783,1)" font-size="30.67" font-weight="bold" fill="#000" text-anchor="start">S1</text>
<text transform="translate(234.01,833.9) scale(1.0596,1)" font-size="18.76" font-weight="bold" fill="#000" text-anchor="start">25/100</text>
<text transform="translate(304.52,827.3) scale(1.1702,1)" font-size="28.5" font-weight="bold" fill="#000" text-anchor="start">as-G</text>
<text transform="translate(188.96,869.3) scale(0.9560,1)" font-size="30.67" font-weight="bold" fill="#000" text-anchor="start">S1</text>
<text transform="translate(238.52,876.6) scale(0.9923,1)" font-size="19.76" font-weight="bold" fill="#000" text-anchor="start">25/100</text>
<text transform="translate(310.24,869.3) scale(1.0861,1)" font-size="29.8" font-weight="bold" fill="#000" text-anchor="start">T-A</text>
<clipPath id="cd"><rect x="789.2" y="503.7" width="543" height="383.3"/></clipPath>
<g clip-path="url(#cd)">
<path d="M987.3 536.1 L999.9 536.1 L995.9 538.8 L1000.6 547.4 L1004.5 537.4 L1006.5 536.1 L1007.2 549.4 L1005 552 L1004.6 600 L1004.2 667.1 L1006 670 L1008 675 L1010.5 684.4 L1011 640 L1011.2 600 L1011.8 587.9 L1013.2 560 L1015.8 566.6 L1021.1 573.3 L1025.1 575.9 L1031.7 585.2 L1032.5 600 L1032.5 737.9 L1036 752 L1040 765 L1041.9 772.5 L1045 800 L1048.2 829.1 L1050 860 L1052.9 890 L1055 890 L1056 840 L1059.3 800 L1060.8 778.8 L1062.2 736.5 L1062.7 698.6 L1064 660.8 L1067.7 630.6 L1072.8 605.4 L1076 592 L1080.3 580.2 L1086.1 566.5 L1094.1 550.7 L1102 538.8 L1110 530.8 L1120.6 521.5 L1128 515.5 L1135.2 510.3 L1144.5 504" fill="none" stroke="#8000FF" stroke-width="3.8" stroke-linejoin="round" stroke-linecap="round"/>
<path d="M1046.5 815 L1051 815 L1056 840 L1056 890 L1050 890Z" fill="#8000FF" stroke="#8000FF" stroke-width="1.2" stroke-linejoin="round"/>
<path d="M826.7 609.2 L828 607 L831.1 605.7 L835 604 L838.4 604.2 L840 606 L841.4 611.5 L842.2 596.9 L842.8 551.4 L845.8 548.4 L852 549 L860.4 551.4 L870 550 L878.1 551.4 L885 553 L892.7 555.8 L907 561 L922.1 566 L938 570 L954.4 574.8 L967 579.5 L980 584.5 L993.3 591.2 L1004.3 599.8 L1012 605.7 L1021.9 614.5 L1027.8 621.5 L1032 627.5 L1036.5 635 L1040.3 643.5 L1045 651.3 L1048.3 658.5 L1051 668 L1052.9 678.1 L1055.6 690.8 L1057.6 711.2 L1059.2 730 L1060.2 749.1 L1061 800 L1062 870 L1062.5 800 L1062.5 760 L1063.8 755 L1065.3 741.8 L1068.2 725.7 L1072.6 711 L1078.5 700.7 L1087.3 690.5 L1099 680.9 L1113.7 669.9 L1128.4 661.8 L1143.1 654.5 L1157.8 645 L1172.4 640.6 L1187.1 634.7 L1201.8 629.5 L1210.7 625.6 L1211.5 598.3 L1213 598 L1215.9 602.7 L1215.9 624.8 L1222.5 621.2 L1240.2 616.7 L1246.1 613.1 L1257.9 614.5 L1274.1 608.6 L1278.5 612.3 L1287.4 609.4 L1294.8 604.2" fill="none" stroke="#6E0037" stroke-width="3.8" stroke-linejoin="round" stroke-linecap="round"/>
<path d="M1210.5 598 L1213 597 L1216.5 603 L1216.5 625 L1210.5 626Z" fill="#6E0037" stroke="#6E0037" stroke-width="1.2" stroke-linejoin="round"/>
<path d="M826 608 L832 603.5 L838 602.5 L841 605 L842 612 L836 609 L829 611Z" fill="#6E0037" stroke="#6E0037" stroke-width="1.2" stroke-linejoin="round"/>
<path d="M1059 745 L1064 745 L1063 800 L1062.8 870 L1061 870 L1059.8 800Z" fill="#6E0037" stroke="#6E0037" stroke-width="1.2" stroke-linejoin="round"/>
</g>
<rect x="789.2" y="503.7" width="543" height="383.3" fill="none" stroke="#A40A5C" stroke-width="2.2"/>
<line x1="785.2" y1="876.95" x2="789.2" y2="876.95" stroke="#A40A5C" stroke-width="1.7"/>
<line x1="785.2" y1="869.84" x2="789.2" y2="869.84" stroke="#A40A5C" stroke-width="1.7"/>
<line x1="785.2" y1="864.33" x2="789.2" y2="864.33" stroke="#A40A5C" stroke-width="1.7"/>
<line x1="785.2" y1="859.82" x2="789.2" y2="859.82" stroke="#A40A5C" stroke-width="1.7"/>
<line x1="785.2" y1="856.01" x2="789.2" y2="856.01" stroke="#A40A5C" stroke-width="1.7"/>
<line x1="785.2" y1="852.71" x2="789.2" y2="852.71" stroke="#A40A5C" stroke-width="1.7"/>
<line x1="785.2" y1="849.8" x2="789.2" y2="849.8" stroke="#A40A5C" stroke-width="1.7"/>
<line x1="781.2" y1="847.2" x2="789.2" y2="847.2" stroke="#A40A5C" stroke-width="2"/>
<line x1="785.2" y1="830.07" x2="789.2" y2="830.07" stroke="#A40A5C" stroke-width="1.7"/>
<line x1="785.2" y1="820.05" x2="789.2" y2="820.05" stroke="#A40A5C" stroke-width="1.7"/>
<line x1="785.2" y1="812.94" x2="789.2" y2="812.94" stroke="#A40A5C" stroke-width="1.7"/>
<line x1="785.2" y1="807.43" x2="789.2" y2="807.43" stroke="#A40A5C" stroke-width="1.7"/>
<line x1="785.2" y1="802.92" x2="789.2" y2="802.92" stroke="#A40A5C" stroke-width="1.7"/>
<line x1="785.2" y1="799.11" x2="789.2" y2="799.11" stroke="#A40A5C" stroke-width="1.7"/>
<line x1="785.2" y1="795.81" x2="789.2" y2="795.81" stroke="#A40A5C" stroke-width="1.7"/>
<line x1="785.2" y1="792.9" x2="789.2" y2="792.9" stroke="#A40A5C" stroke-width="1.7"/>
<line x1="781.2" y1="790.3" x2="789.2" y2="790.3" stroke="#A40A5C" stroke-width="2"/>
<line x1="785.2" y1="773.17" x2="789.2" y2="773.17" stroke="#A40A5C" stroke-width="1.7"/>
<line x1="785.2" y1="763.15" x2="789.2" y2="763.15" stroke="#A40A5C" stroke-width="1.7"/>
<line x1="785.2" y1="756.04" x2="789.2" y2="756.04" stroke="#A40A5C" stroke-width="1.7"/>
<line x1="785.2" y1="750.53" x2="789.2" y2="750.53" stroke="#A40A5C" stroke-width="1.7"/>
<line x1="785.2" y1="746.02" x2="789.2" y2="746.02" stroke="#A40A5C" stroke-width="1.7"/>
<line x1="785.2" y1="742.21" x2="789.2" y2="742.21" stroke="#A40A5C" stroke-width="1.7"/>
<line x1="785.2" y1="738.91" x2="789.2" y2="738.91" stroke="#A40A5C" stroke-width="1.7"/>
<line x1="785.2" y1="736" x2="789.2" y2="736" stroke="#A40A5C" stroke-width="1.7"/>
<line x1="781.2" y1="733.4" x2="789.2" y2="733.4" stroke="#A40A5C" stroke-width="2"/>
<line x1="785.2" y1="716.27" x2="789.2" y2="716.27" stroke="#A40A5C" stroke-width="1.7"/>
<line x1="785.2" y1="706.25" x2="789.2" y2="706.25" stroke="#A40A5C" stroke-width="1.7"/>
<line x1="785.2" y1="699.14" x2="789.2" y2="699.14" stroke="#A40A5C" stroke-width="1.7"/>
<line x1="785.2" y1="693.63" x2="789.2" y2="693.63" stroke="#A40A5C" stroke-width="1.7"/>
<line x1="785.2" y1="689.12" x2="789.2" y2="689.12" stroke="#A40A5C" stroke-width="1.7"/>
<line x1="785.2" y1="685.31" x2="789.2" y2="685.31" stroke="#A40A5C" stroke-width="1.7"/>
<line x1="785.2" y1="682.01" x2="789.2" y2="682.01" stroke="#A40A5C" stroke-width="1.7"/>
<line x1="785.2" y1="679.1" x2="789.2" y2="679.1" stroke="#A40A5C" stroke-width="1.7"/>
<line x1="781.2" y1="676.5" x2="789.2" y2="676.5" stroke="#A40A5C" stroke-width="2"/>
<line x1="785.2" y1="659.37" x2="789.2" y2="659.37" stroke="#A40A5C" stroke-width="1.7"/>
<line x1="785.2" y1="649.35" x2="789.2" y2="649.35" stroke="#A40A5C" stroke-width="1.7"/>
<line x1="785.2" y1="642.24" x2="789.2" y2="642.24" stroke="#A40A5C" stroke-width="1.7"/>
<line x1="785.2" y1="636.73" x2="789.2" y2="636.73" stroke="#A40A5C" stroke-width="1.7"/>
<line x1="785.2" y1="632.22" x2="789.2" y2="632.22" stroke="#A40A5C" stroke-width="1.7"/>
<line x1="785.2" y1="628.41" x2="789.2" y2="628.41" stroke="#A40A5C" stroke-width="1.7"/>
<line x1="785.2" y1="625.11" x2="789.2" y2="625.11" stroke="#A40A5C" stroke-width="1.7"/>
<line x1="785.2" y1="622.2" x2="789.2" y2="622.2" stroke="#A40A5C" stroke-width="1.7"/>
<line x1="781.2" y1="619.6" x2="789.2" y2="619.6" stroke="#A40A5C" stroke-width="2"/>
<line x1="785.2" y1="602.47" x2="789.2" y2="602.47" stroke="#A40A5C" stroke-width="1.7"/>
<line x1="785.2" y1="592.45" x2="789.2" y2="592.45" stroke="#A40A5C" stroke-width="1.7"/>
<line x1="785.2" y1="585.34" x2="789.2" y2="585.34" stroke="#A40A5C" stroke-width="1.7"/>
<line x1="785.2" y1="579.83" x2="789.2" y2="579.83" stroke="#A40A5C" stroke-width="1.7"/>
<line x1="785.2" y1="575.32" x2="789.2" y2="575.32" stroke="#A40A5C" stroke-width="1.7"/>
<line x1="785.2" y1="571.51" x2="789.2" y2="571.51" stroke="#A40A5C" stroke-width="1.7"/>
<line x1="785.2" y1="568.21" x2="789.2" y2="568.21" stroke="#A40A5C" stroke-width="1.7"/>
<line x1="785.2" y1="565.3" x2="789.2" y2="565.3" stroke="#A40A5C" stroke-width="1.7"/>
<line x1="781.2" y1="562.7" x2="789.2" y2="562.7" stroke="#A40A5C" stroke-width="2"/>
<line x1="785.2" y1="545.57" x2="789.2" y2="545.57" stroke="#A40A5C" stroke-width="1.7"/>
<line x1="785.2" y1="535.55" x2="789.2" y2="535.55" stroke="#A40A5C" stroke-width="1.7"/>
<line x1="785.2" y1="528.44" x2="789.2" y2="528.44" stroke="#A40A5C" stroke-width="1.7"/>
<line x1="785.2" y1="522.93" x2="789.2" y2="522.93" stroke="#A40A5C" stroke-width="1.7"/>
<line x1="785.2" y1="518.42" x2="789.2" y2="518.42" stroke="#A40A5C" stroke-width="1.7"/>
<line x1="785.2" y1="514.61" x2="789.2" y2="514.61" stroke="#A40A5C" stroke-width="1.7"/>
<line x1="785.2" y1="511.31" x2="789.2" y2="511.31" stroke="#A40A5C" stroke-width="1.7"/>
<line x1="785.2" y1="508.4" x2="789.2" y2="508.4" stroke="#A40A5C" stroke-width="1.7"/>
<line x1="781.2" y1="505.8" x2="789.2" y2="505.8" stroke="#A40A5C" stroke-width="2"/>
<line x1="828.86" y1="887" x2="828.86" y2="895" stroke="#A40A5C" stroke-width="2"/>
<line x1="906.24" y1="887" x2="906.24" y2="895" stroke="#A40A5C" stroke-width="2"/>
<line x1="983.62" y1="887" x2="983.62" y2="895" stroke="#A40A5C" stroke-width="2"/>
<line x1="1061" y1="887" x2="1061" y2="895" stroke="#A40A5C" stroke-width="2"/>
<line x1="1138.38" y1="887" x2="1138.38" y2="895" stroke="#A40A5C" stroke-width="2"/>
<line x1="1215.76" y1="887" x2="1215.76" y2="895" stroke="#A40A5C" stroke-width="2"/>
<line x1="1293.14" y1="887" x2="1293.14" y2="895" stroke="#A40A5C" stroke-width="2"/>
<line x1="790.17" y1="887" x2="790.17" y2="891" stroke="#A40A5C" stroke-width="2"/>
<line x1="867.55" y1="887" x2="867.55" y2="891" stroke="#A40A5C" stroke-width="2"/>
<line x1="944.93" y1="887" x2="944.93" y2="891" stroke="#A40A5C" stroke-width="2"/>
<line x1="1022.31" y1="887" x2="1022.31" y2="891" stroke="#A40A5C" stroke-width="2"/>
<line x1="1099.69" y1="887" x2="1099.69" y2="891" stroke="#A40A5C" stroke-width="2"/>
<line x1="1177.07" y1="887" x2="1177.07" y2="891" stroke="#A40A5C" stroke-width="2"/>
<line x1="1254.45" y1="887" x2="1254.45" y2="891" stroke="#A40A5C" stroke-width="2"/>
<line x1="1331.83" y1="887" x2="1331.83" y2="891" stroke="#A40A5C" stroke-width="2"/>
<text transform="translate(723.28,513.4) scale(1.1200,1)" font-size="24" font-weight="normal" fill="#A0106A" text-anchor="start">10m</text>
<text transform="translate(738.23,570.3) scale(1.1200,1)" font-size="24" font-weight="normal" fill="#A0106A" text-anchor="start">1m</text>
<text transform="translate(714.08,627.2) scale(1.1200,1)" font-size="24" font-weight="normal" fill="#A0106A" text-anchor="start">100µ</text>
<text transform="translate(729.03,684.1) scale(1.1200,1)" font-size="24" font-weight="normal" fill="#A0106A" text-anchor="start">10µ</text>
<text transform="translate(743.98,741) scale(1.1200,1)" font-size="24" font-weight="normal" fill="#A0106A" text-anchor="start">1µ</text>
<text transform="translate(715.75,797.9) scale(1.1200,1)" font-size="24" font-weight="normal" fill="#A0106A" text-anchor="start">100n</text>
<text transform="translate(730.7,854.8) scale(1.1200,1)" font-size="24" font-weight="normal" fill="#A0106A" text-anchor="start">10n</text>
<text transform="translate(809.36,917.4) scale(1.1200,1)" font-size="24" font-weight="normal" fill="#A0106A" text-anchor="start">-30</text>
<text transform="translate(886.74,917.4) scale(1.1200,1)" font-size="24" font-weight="normal" fill="#A0106A" text-anchor="start">-20</text>
<text transform="translate(964.12,917.4) scale(1.1200,1)" font-size="24" font-weight="normal" fill="#A0106A" text-anchor="start">-10</text>
<text transform="translate(1053.53,917.4) scale(1.1200,1)" font-size="24" font-weight="normal" fill="#A0106A" text-anchor="start">0</text>
<text transform="translate(1122.93,917.4) scale(1.1200,1)" font-size="24" font-weight="normal" fill="#A0106A" text-anchor="start">10</text>
<text transform="translate(1200.66,917.4) scale(1.1200,1)" font-size="24" font-weight="normal" fill="#A0106A" text-anchor="start">20</text>
<text transform="translate(1278.2,917.4) scale(1.1200,1)" font-size="24" font-weight="normal" fill="#A0106A" text-anchor="start">30</text>
<text transform="translate(966.05,939.4) scale(1.1711,1)" font-size="28.92" font-weight="normal" fill="#A0106A" text-anchor="start">Voltage (V)</text>
<text transform="translate(708.7,754.47) scale(1.2008,1) rotate(-90)" font-size="28.99" font-weight="normal" fill="#A0106A" text-anchor="start">Current (A)</text>
<text transform="translate(1275.2,540.28) scale(1.2504,1)" font-size="34.88" font-weight="normal" fill="#000" text-anchor="start" stroke="#fff" stroke-width="0.6">(d)</text>
<path d="M1065 779.3 L1140.8 779.3" fill="none" stroke="#8000FF" stroke-width="3.8" stroke-linejoin="round" stroke-linecap="round"/>
<path d="M1065 821.2 L1140.8 821.2" fill="none" stroke="#6E0037" stroke-width="3.8" stroke-linejoin="round" stroke-linecap="round"/>
<text transform="translate(1148.77,788.5) scale(1.1075,1)" font-size="26.16" font-weight="bold" fill="#000" text-anchor="start">S1</text>
<text transform="translate(1187.93,798.7) scale(1.2369,1)" font-size="15.04" font-weight="bold" fill="#000" text-anchor="start">100/25</text>
<text transform="translate(1255.48,788.5) scale(1.2191,1)" font-size="25.78" font-weight="bold" fill="#000" text-anchor="start">as-G</text>
<text transform="translate(1148.77,830.1) scale(1.1137,1)" font-size="26.02" font-weight="bold" fill="#000" text-anchor="start">S1</text>
<text transform="translate(1187.93,839.3) scale(1.2859,1)" font-size="14.46" font-weight="bold" fill="#000" text-anchor="start">100/25</text>
<text transform="translate(1256.06,830.1) scale(1.1518,1)" font-size="26.02" font-weight="bold" fill="#000" text-anchor="start">T-A</text>
</svg>
</body></html>
